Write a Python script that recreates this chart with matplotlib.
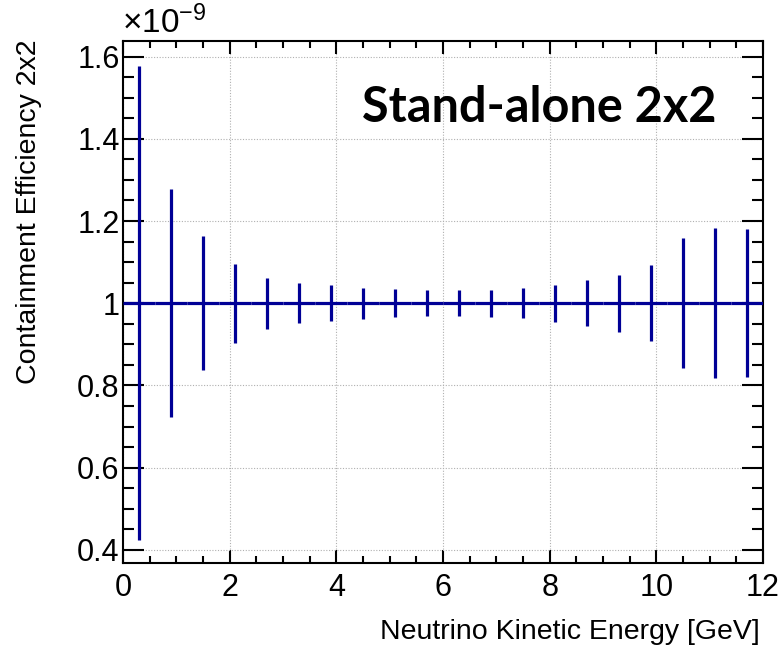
import numpy as np
import matplotlib
matplotlib.use('Agg')
import matplotlib.pyplot as plt
from matplotlib.ticker import MultipleLocator, FuncFormatter

plt.rcParams['font.family'] = ['Liberation Sans', 'DejaVu Sans']
plt.rcParams['mathtext.fontset'] = 'custom'
plt.rcParams['mathtext.rm'] = 'Liberation Sans'
plt.rcParams['mathtext.it'] = 'Liberation Sans:italic'

# bin centres [GeV], efficiency and its error
energy = [0.3, 0.9, 1.5, 2.1, 2.7, 3.3, 3.9, 4.5, 5.1, 5.7,
          6.3, 6.9, 7.5, 8.1, 8.7, 9.3, 9.9, 10.5, 11.1, 11.7]
efficiency = [1.0e-9] * 20
eff_err = [0.577e-9, 0.278e-9, 0.163e-9, 0.096e-9, 0.062e-9, 0.049e-9, 0.044e-9,
           0.038e-9, 0.034e-9, 0.032e-9, 0.031e-9, 0.033e-9, 0.037e-9, 0.045e-9,
           0.056e-9, 0.069e-9, 0.093e-9, 0.158e-9, 0.182e-9, 0.180e-9]
bin_half = 0.3
scale = 1e-9

W, H = 782, 649
fig = plt.figure(figsize=(W/100, H/100), dpi=100)
ax = fig.add_axes([123/W, 1-563/H, 640/W, 522/H])

y = np.array(efficiency)/scale
yerr = np.array(eff_err)/scale
ax.errorbar(energy, y, yerr=yerr, xerr=bin_half, fmt='none',
            ecolor='#000096', elinewidth=2.3, capsize=0, zorder=3)

ax.set_xlim(0, 12)
ax.set_ylim(0.368, 1.638)
ax.xaxis.set_major_locator(MultipleLocator(2))
ax.xaxis.set_minor_locator(MultipleLocator(0.5))
ax.yaxis.set_major_locator(MultipleLocator(0.2))
ax.yaxis.set_minor_locator(MultipleLocator(0.05))
ax.yaxis.set_major_formatter(FuncFormatter(lambda v, p: '{:g}'.format(round(v, 2))))

ax.grid(True, which='major', linestyle=(0, (1, 1.5)), color='#b0b0b0', linewidth=0.8)
ax.tick_params(which='both', direction='in', top=True, right=True, width=1.5,
               labelsize=22, colors='black')
ax.tick_params(axis='x', which='major', length=9.5, pad=7)
ax.tick_params(axis='x', which='minor', length=5)
ax.tick_params(axis='y', which='major', length=15, pad=2.5)
ax.tick_params(axis='y', which='minor', length=8)
for s in ax.spines.values():
    s.set_linewidth(1.5)

fig.text(122/W, 1-33/H, r'$\times10^{-9}$', fontsize=24, ha='left', va='baseline')
fig.text(760/W, 1-639/H, 'Neutrino Kinetic Energy [GeV]', fontsize=20.5,
         ha='right', va='baseline')
fig.text(29/W, 1-40/H, 'Containment Efficiency 2x2', fontsize=20.5, rotation=90,
         ha='center', va='top')
ax.text(717/W, 1-122/H, 'Stand-alone 2x2', transform=fig.transFigure,
        fontsize=35, fontweight='bold', family='Lato', ha='right', va='baseline')

fig.savefig('out.png', dpi=100)
